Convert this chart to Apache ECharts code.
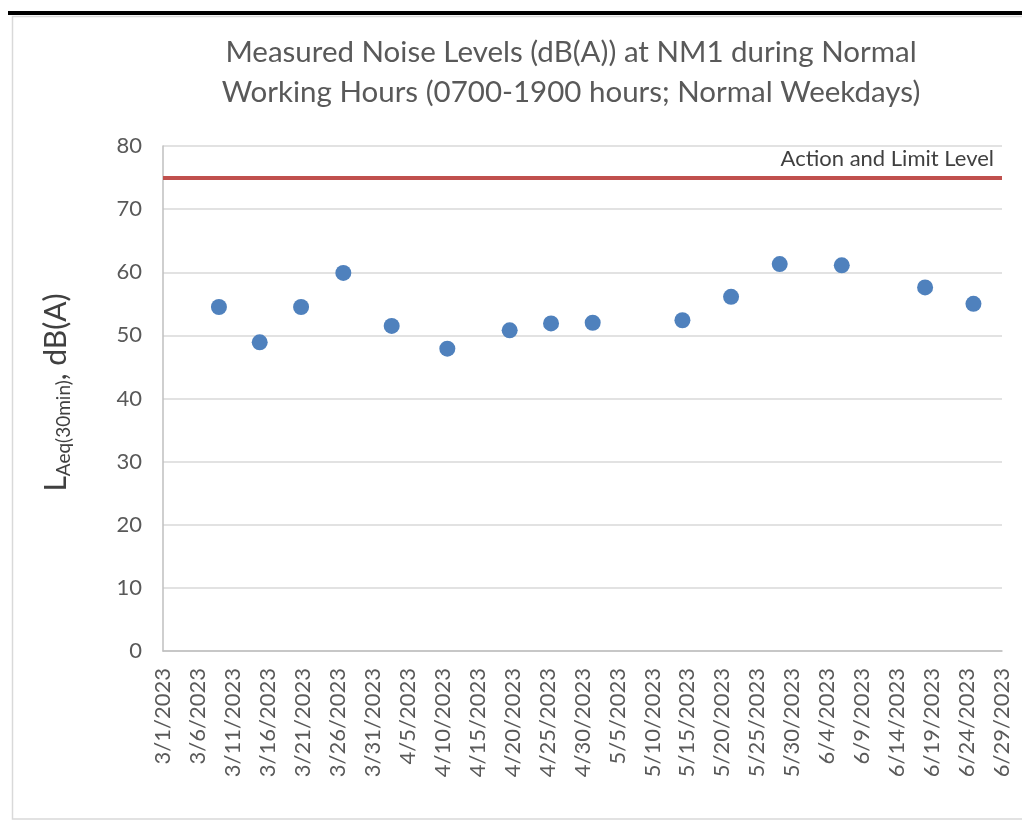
<!DOCTYPE html>
<html>
<head>
<meta charset="utf-8">
<script src="https://cdn.jsdelivr.net/npm/echarts@6/dist/echarts.min.js"></script>
<style>
  html, body { margin: 0; padding: 0; background: #fff; }
  #chart { width: 1022px; height: 823px; }
</style>
</head>
<body>
<div id="chart"></div>
<script>
// measurement times at NM1 (date + approx hour)
const measuredAt = [
  "2023-03-09T00:00", "2023-03-14T20:00", "2023-03-20T18:00", "2023-03-26T19:00",
  "2023-04-02T17:00", "2023-04-10T16:00", "2023-04-19T14:00", "2023-04-25T12:00",
  "2023-05-01T11:00", "2023-05-14T07:00", "2023-05-21T06:00", "2023-05-28T05:00",
  "2023-06-06T02:00", "2023-06-18T00:00", "2023-06-24T22:00"
];
// LAeq(30min), dB(A)
const noiseLevels = [
  54.5, 48.9, 54.5, 59.9,
  51.5, 47.9, 50.8, 51.9,
  52.0, 52.4, 56.1, 61.3,
  61.1, 57.6, 55.0
];
const limitLevel = 75;
const limitLabel = "Action and Limit Level";
const axisStart = "2023-03-01";
const axisDays = 120;
const tickStepDays = 5;

const DAY = 86400000;
const t0 = Date.parse(axisStart + "T00:00:00Z");

function dayOffset(s) {
  return (Date.parse(s + ":00Z") - t0) / DAY;
}

function dayLabel(v) {
  const d = new Date(t0 + v * DAY);
  return (d.getUTCMonth() + 1) + "/" + d.getUTCDate() + "/" + d.getUTCFullYear();
}

const points = measuredAt.map((s, i) => [dayOffset(s), noiseLevels[i]]);

const font = "Lato, 'Open Sans', sans-serif";
const chart = echarts.init(document.getElementById("chart"));

chart.setOption({
  animation: false,
  textStyle: { fontFamily: font },
  title: {
    text: "Measured Noise Levels (dB(A)) at NM1 during Normal\nWorking Hours (0700-1900 hours; Normal Weekdays)",
    left: 566,
    top: 27,
    textAlign: "center",
    textStyle: {
      fontFamily: font,
      fontSize: 29.5,
      fontWeight: "normal",
      color: "#595959",
      lineHeight: 40
    }
  },
  graphic: [
    {
      type: "rect",
      shape: { x: 8, y: 11, width: 1014, height: 4 },
      style: { fill: "#000" }
    },
    {
      type: "rect",
      shape: { x: 12.5, y: 16.5, width: 1030, height: 802.5 },
      style: { fill: null, stroke: "#D9D9D9", lineWidth: 1.5 }
    }
  ],
  grid: {
    left: 163,
    right: 20,
    top: 146,
    bottom: 172
  },
  xAxis: {
    type: "value",
    min: 0,
    max: axisDays,
    interval: tickStepDays,
    axisLine: { show: true, lineStyle: { color: "#BFBFBF", width: 1.5 } },
    axisTick: { show: false },
    splitLine: { show: false },
    axisLabel: {
      rotate: 90,
      margin: 17,
      fontSize: 22,
      color: "#595959",
      formatter: dayLabel,
      showMinLabel: true,
      showMaxLabel: true
    }
  },
  yAxis: {
    type: "value",
    min: 0,
    max: 80,
    interval: 10,
    axisLine: { show: true, lineStyle: { color: "#BFBFBF", width: 1.5 } },
    axisTick: { show: false },
    splitLine: { lineStyle: { color: "#D9D9D9", width: 1.5 } },
    axisLabel: { margin: 21, fontSize: 22, color: "#595959" },
    name: "{L|L}{s|Aeq(30min)}{n|, dB(A)}",
    nameLocation: "middle",
    nameRotate: 90,
    nameGap: 90,
    nameTextStyle: {
      padding: [0, 0, 0, 12],
      rich: {
        L: { fontSize: 30, color: "#404040", fontFamily: font },
        s: { fontSize: 19, color: "#404040", fontFamily: font, verticalAlign: "bottom", padding: [14, 0, 0, 0] },
        n: { fontSize: 30, color: "#404040", fontFamily: font }
      }
    }
  },
  series: [
    {
      name: "NM1",
      type: "scatter",
      data: points,
      symbol: "circle",
      symbolSize: 16,
      itemStyle: { color: "#4F81BD", opacity: 1 },
      markLine: {
        silent: true,
        symbol: "none",
        lineStyle: { color: "#C0504D", width: 4, type: "solid" },
        label: {
          show: true,
          position: "insideEndTop",
          formatter: limitLabel,
          fontSize: 22,
          color: "#404040",
          distance: [8, 8]
        },
        data: [{ yAxis: limitLevel }]
      }
    }
  ]
});
</script>
</body>
</html>
